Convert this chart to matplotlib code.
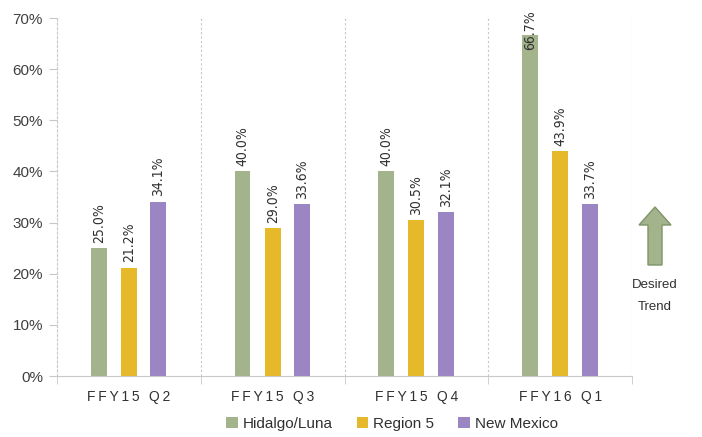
import matplotlib
matplotlib.use("Agg")
import matplotlib.pyplot as plt
from matplotlib.patches import FancyArrow
import numpy as np

quarters = ["FFY15 Q2", "FFY15 Q3", "FFY15 Q4", "FFY16 Q1"]
series_names = ["Hidalgo/Luna", "Region 5", "New Mexico"]
hidalgo = [25.0, 40.0, 40.0, 66.7]
region5 = [21.2, 29.0, 30.5, 43.9]
new_mexico = [34.1, 33.6, 32.1, 33.7]
colors = ["#a3b38c", "#e6b92b", "#9b85c3"]

plt.rcParams["font.family"] = ["Liberation Sans", "DejaVu Sans"]

fig = plt.figure(figsize=(7.02, 4.37), dpi=100)
ax = fig.add_axes([57 / 702, 1 - 376 / 437, (632 - 57) / 702, (376 - 18) / 437])

x = np.arange(len(quarters))
offsets = [-0.21, 0.0, 0.205]
width = 0.11
all_series = [hidalgo, region5, new_mexico]

for vals, off, col, name in zip(all_series, offsets, colors, series_names):
    ax.bar(x + off, vals, width, color=col, label=name, zorder=2)
    for xi, v in zip(x, vals):
        y = v + 1.0
        if y + 8 > 70:
            # no room above the top: Excel pushes the label down into the bar
            y = v - 3.0
        ax.text(xi + off, y, f"{v:.1f}%", rotation=90, ha="center", va="bottom",
                fontsize=10, color="#303030", family="DejaVu Sans",
                fontstretch="condensed", zorder=3)

ax.set_xlim(-0.5, len(quarters) - 0.5)
ax.set_ylim(0, 70)
ax.set_yticks(np.arange(0, 71, 10))
ax.set_yticklabels([f"{t}%" for t in range(0, 71, 10)], fontsize=11, color="#404040")

# category separators
for b in np.arange(0.5, len(quarters), 1.0):
    ax.axvline(b, color="#c8c8c8", linestyle=(0, (2, 2)), linewidth=0.8, zorder=1)

for s in ["top", "right"]:
    ax.spines[s].set_visible(False)
ax.spines["left"].set_color("#c8c8c8")
ax.spines["left"].set_linestyle((0, (2, 2)))
ax.spines["left"].set_linewidth(0.8)
ax.spines["bottom"].set_color("#c8c8c8")

ax.tick_params(axis="y", length=6, color="#c8c8c8", pad=4)
ax.set_xticks(x)
spaced = ["\u2009".join(list(q)) for q in quarters]
ax.set_xticklabels(spaced, fontsize=10, color="#303030")
ax.tick_params(axis="x", length=0, pad=10)
ax.set_xticks(np.arange(-0.5, len(quarters), 1.0), minor=True)
ax.tick_params(axis="x", which="minor", length=6, color="#c8c8c8")

leg = fig.legend(loc="center", bbox_to_anchor=(392 / 702, 1 - 424 / 437), ncol=3,
                 frameon=False, fontsize=11, handlelength=0.75, handleheight=0.75,
                 handletextpad=0.3, columnspacing=1.6)
for t in leg.get_texts():
    t.set_color("#303030")

# desired trend arrow
arrow = FancyArrow(655 / 702, 1 - 265 / 437, 0, 58 / 437, width=14 / 702,
                   head_width=32 / 702, head_length=18 / 437,
                   length_includes_head=True, transform=fig.transFigure,
                   facecolor="#a3b38c", edgecolor="#7f9469", linewidth=1)
fig.patches.append(arrow)
fig.text(655 / 702, 1 - 285 / 437, "Desired", ha="center", va="center", fontsize=9.5, color="#303030")
fig.text(655 / 702, 1 - 307 / 437, "Trend", ha="center", va="center", fontsize=9.5, color="#303030")

fig.savefig("out.png", dpi=100)
